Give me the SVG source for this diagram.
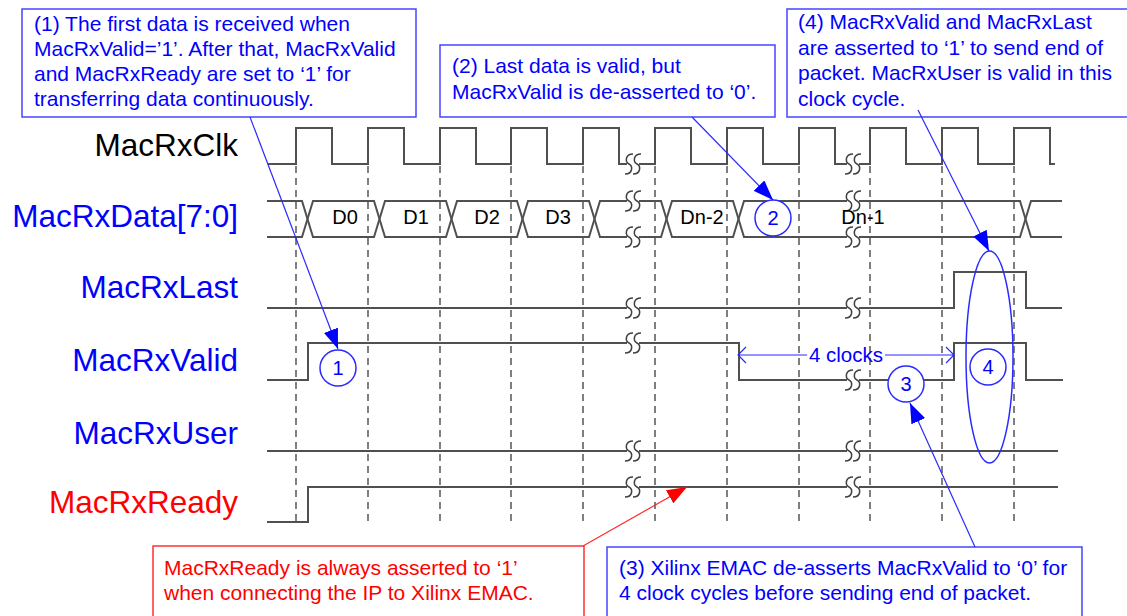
<svg xmlns="http://www.w3.org/2000/svg" width="1127" height="616" viewBox="0 0 1127 616">
<defs>
<style>
.lbl{font-family:"Liberation Sans",Arial,sans-serif;font-size:31.5px;text-anchor:end}
.sig{fill:none;stroke:#505050;stroke-width:2}
.grid{fill:none;stroke:#555;stroke-width:1.5;stroke-dasharray:7,5}
.dtxt{font-family:"Liberation Sans",Arial,sans-serif;font-size:20px;fill:#000;text-anchor:middle}
.ctxt{font-family:"Liberation Sans",Arial,sans-serif;font-size:21px;fill:#0000ff}
.rtxt{font-family:"Liberation Sans",Arial,sans-serif;font-size:21px;fill:#ff0000}
.box{fill:#fff;stroke:#4545ff;stroke-width:1.5}
.rbox{fill:#fff;stroke:#ff3030;stroke-width:1.5}
.conn{fill:none;stroke:#2a2aff;stroke-width:1.2}
.rconn{fill:none;stroke:#ff2a2a;stroke-width:1.2}
.num{fill:#fff;stroke:#2a2aff;stroke-width:1.5}
.ntxt{font-family:"Liberation Sans",Arial,sans-serif;font-size:20px;fill:#0000ff;text-anchor:middle}
.brk{fill:none;stroke:#404040;stroke-width:1.5}
.gap{fill:#fff;stroke:none}
</style>
<marker id="ab" markerUnits="userSpaceOnUse" markerWidth="20" markerHeight="15" refX="20" refY="7.5" orient="auto"><path d="M0,0 L20,7.5 L0,15 z" fill="#0000ff"/></marker>
<marker id="ar" markerUnits="userSpaceOnUse" markerWidth="20" markerHeight="15" refX="20" refY="7.5" orient="auto"><path d="M0,0 L20,7.5 L0,15 z" fill="#ff0000"/></marker>
<g id="sq"><rect class="gap" x="-6" y="-4" width="12" height="8"/><path class="brk" d="M0,-10 C-8,-10 -8,-2 -4,0 C0,2 0,10 -8,10"/><path class="brk" d="M8,-10 C0,-10 0,-2 4,0 C8,2 8,10 0,10"/></g>
</defs>
<rect width="1127" height="616" fill="#fff"/>

<g id="labels">
<text class="lbl" x="238" y="156" fill="#000">MacRxClk</text>
<text class="lbl" x="238" y="227" fill="#0000ff">MacRxData[7:0]</text>
<text class="lbl" x="238" y="298" fill="#0000ff">MacRxLast</text>
<text class="lbl" x="238" y="371" fill="#0000ff">MacRxValid</text>
<text class="lbl" x="238" y="444" fill="#0000ff">MacRxUser</text>
<text class="lbl" x="238" y="513" fill="#ff0000">MacRxReady</text>
</g>

<g id="grid">
<path class="grid" d="M296,166V523M368,166V523M440,166V523M511,166V523M583,166V523M655,166V523M727,166V523M799,166V523M870,166V523M942,166V523M1014,166V523"/>
</g>

<g id="waves">
<path class="sig" d="M268,164H296V128H332V164H368V128H404V164H440V128H476V164H511V128H547V164H583V128H619V164H655V128H691V164H727V128H763V164H799V128H835V164H870V128H906V164H942V128H978V164H1014V128H1050V164H1055"/>
<path class="sig" d="M267,201H302L307.5,219L302,237H267"/>
<path class="sig" d="M307.5,219L313,201H374L379.5,219L374,237H313Z"/>
<path class="sig" d="M379.5,219L385,201H446L451.5,219L446,237H385Z"/>
<path class="sig" d="M451.5,219L457,201H517L522.5,219L517,237H457Z"/>
<path class="sig" d="M522.5,219L528,201H589L594.5,219L589,237H528Z"/>
<path class="sig" d="M594.5,219L600,201H661L666.5,219L661,237H600Z"/>
<path class="sig" d="M666.5,219L672,201H733L738.5,219L733,237H672Z"/>
<path class="sig" d="M738.5,219L744,201H1020L1025.5,219L1020,237H744Z"/>
<path class="sig" d="M1062,201H1031L1025.5,219L1031,237H1062"/>
<path class="sig" d="M267,308H954V272H1026V308H1062"/>
<path class="sig" d="M267,380H308V343H739V380H954V343H1026V380H1063"/>
<path class="sig" d="M267,451H1058"/>
<path class="sig" d="M267,522H308V487H1058"/>
<use href="#sq" x="633" y="164"/>
<use href="#sq" x="853" y="164"/>
<use href="#sq" x="633" y="201"/>
<use href="#sq" x="633" y="237"/>
<use href="#sq" x="853" y="201"/>
<use href="#sq" x="853" y="237"/>
<use href="#sq" x="633" y="308"/>
<use href="#sq" x="853" y="308"/>
<use href="#sq" x="633" y="343"/>
<use href="#sq" x="853" y="380"/>
<use href="#sq" x="633" y="451"/>
<use href="#sq" x="853" y="451"/>
<use href="#sq" x="633" y="487"/>
<use href="#sq" x="853" y="487"/>
<text class="dtxt" x="345" y="224">D0</text>
<text class="dtxt" x="416" y="224">D1</text>
<text class="dtxt" x="487" y="224">D2</text>
<text class="dtxt" x="558" y="224">D3</text>
<text class="dtxt" x="702" y="224">Dn-2</text>
<text class="dtxt" x="863" y="224">Dn-1</text>
</g>

<g id="clocks4">
<path class="conn" d="M738,355H807M885,355H954M746,347L738,355L746,363M946,347L954,355L946,363"/>
<text class="ntxt" x="846" y="362" style="font-size:20.5px">4 clocks</text>
</g>

<g id="markers">
<circle class="num" cx="338" cy="368" r="18"/><text class="ntxt" x="338" y="375">1</text>
<circle class="num" cx="773" cy="218" r="18"/><text class="ntxt" x="773" y="225">2</text>
<circle class="num" cx="906" cy="384" r="18"/><text class="ntxt" x="906" y="391">3</text>
<circle class="num" cx="988" cy="367" r="18"/><text class="ntxt" x="988" y="374">4</text>
<ellipse cx="989.5" cy="357" rx="23.5" ry="106" fill="none" stroke="#2a2aff" stroke-width="1.5"/>
</g>

<g id="note1">
<rect class="box" x="22" y="9" width="394" height="108"/>
<text class="ctxt" x="34" y="31">(1) The first data is received when</text>
<text class="ctxt" x="34" y="56">MacRxValid=’1’. After that, MacRxValid</text>
<text class="ctxt" x="34" y="81">and MacRxReady are set to ‘1’ for</text>
<text class="ctxt" x="34" y="106">transferring data continuously.</text>
</g>
<g id="note2">
<rect class="box" x="440" y="45" width="335" height="72"/>
<text class="ctxt" x="452" y="73">(2) Last data is valid, but</text>
<text class="ctxt" x="452" y="99">MacRxValid is de-asserted to ‘0’.</text>
</g>
<g id="note4">
<rect class="box" x="787" y="9" width="350" height="108"/>
<text class="ctxt" x="798" y="29">(4) MacRxValid and MacRxLast</text>
<text class="ctxt" x="798" y="55">are asserted to ‘1’ to send end of</text>
<text class="ctxt" x="798" y="80">packet. MacRxUser is valid in this</text>
<text class="ctxt" x="798" y="106">clock cycle.</text>
</g>
<g id="noteReady">
<rect class="rbox" x="153" y="546" width="431" height="80"/>
<text class="rtxt" x="164" y="575">MacRxReady is always asserted to ‘1’</text>
<text class="rtxt" x="164" y="600">when connecting the IP to Xilinx EMAC.</text>
</g>
<g id="note3">
<rect class="box" x="607" y="547" width="475" height="80"/>
<text class="ctxt" x="619" y="575">(3) Xilinx EMAC de-asserts MacRxValid to ‘0’ for</text>
<text class="ctxt" x="619" y="600">4 clock cycles before sending end of packet.</text>
</g>

<g id="connectors">
<path class="conn" d="M250,117L338,349" marker-end="url(#ab)"/>
<path class="conn" d="M692,117L773,200" marker-end="url(#ab)"/>
<path class="conn" d="M918,110L989,251" marker-end="url(#ab)"/>
<path class="conn" d="M975,547L910,403" marker-end="url(#ab)"/>
<path class="rconn" d="M583,546L687,487" marker-end="url(#ar)"/>
</g>
</svg>
